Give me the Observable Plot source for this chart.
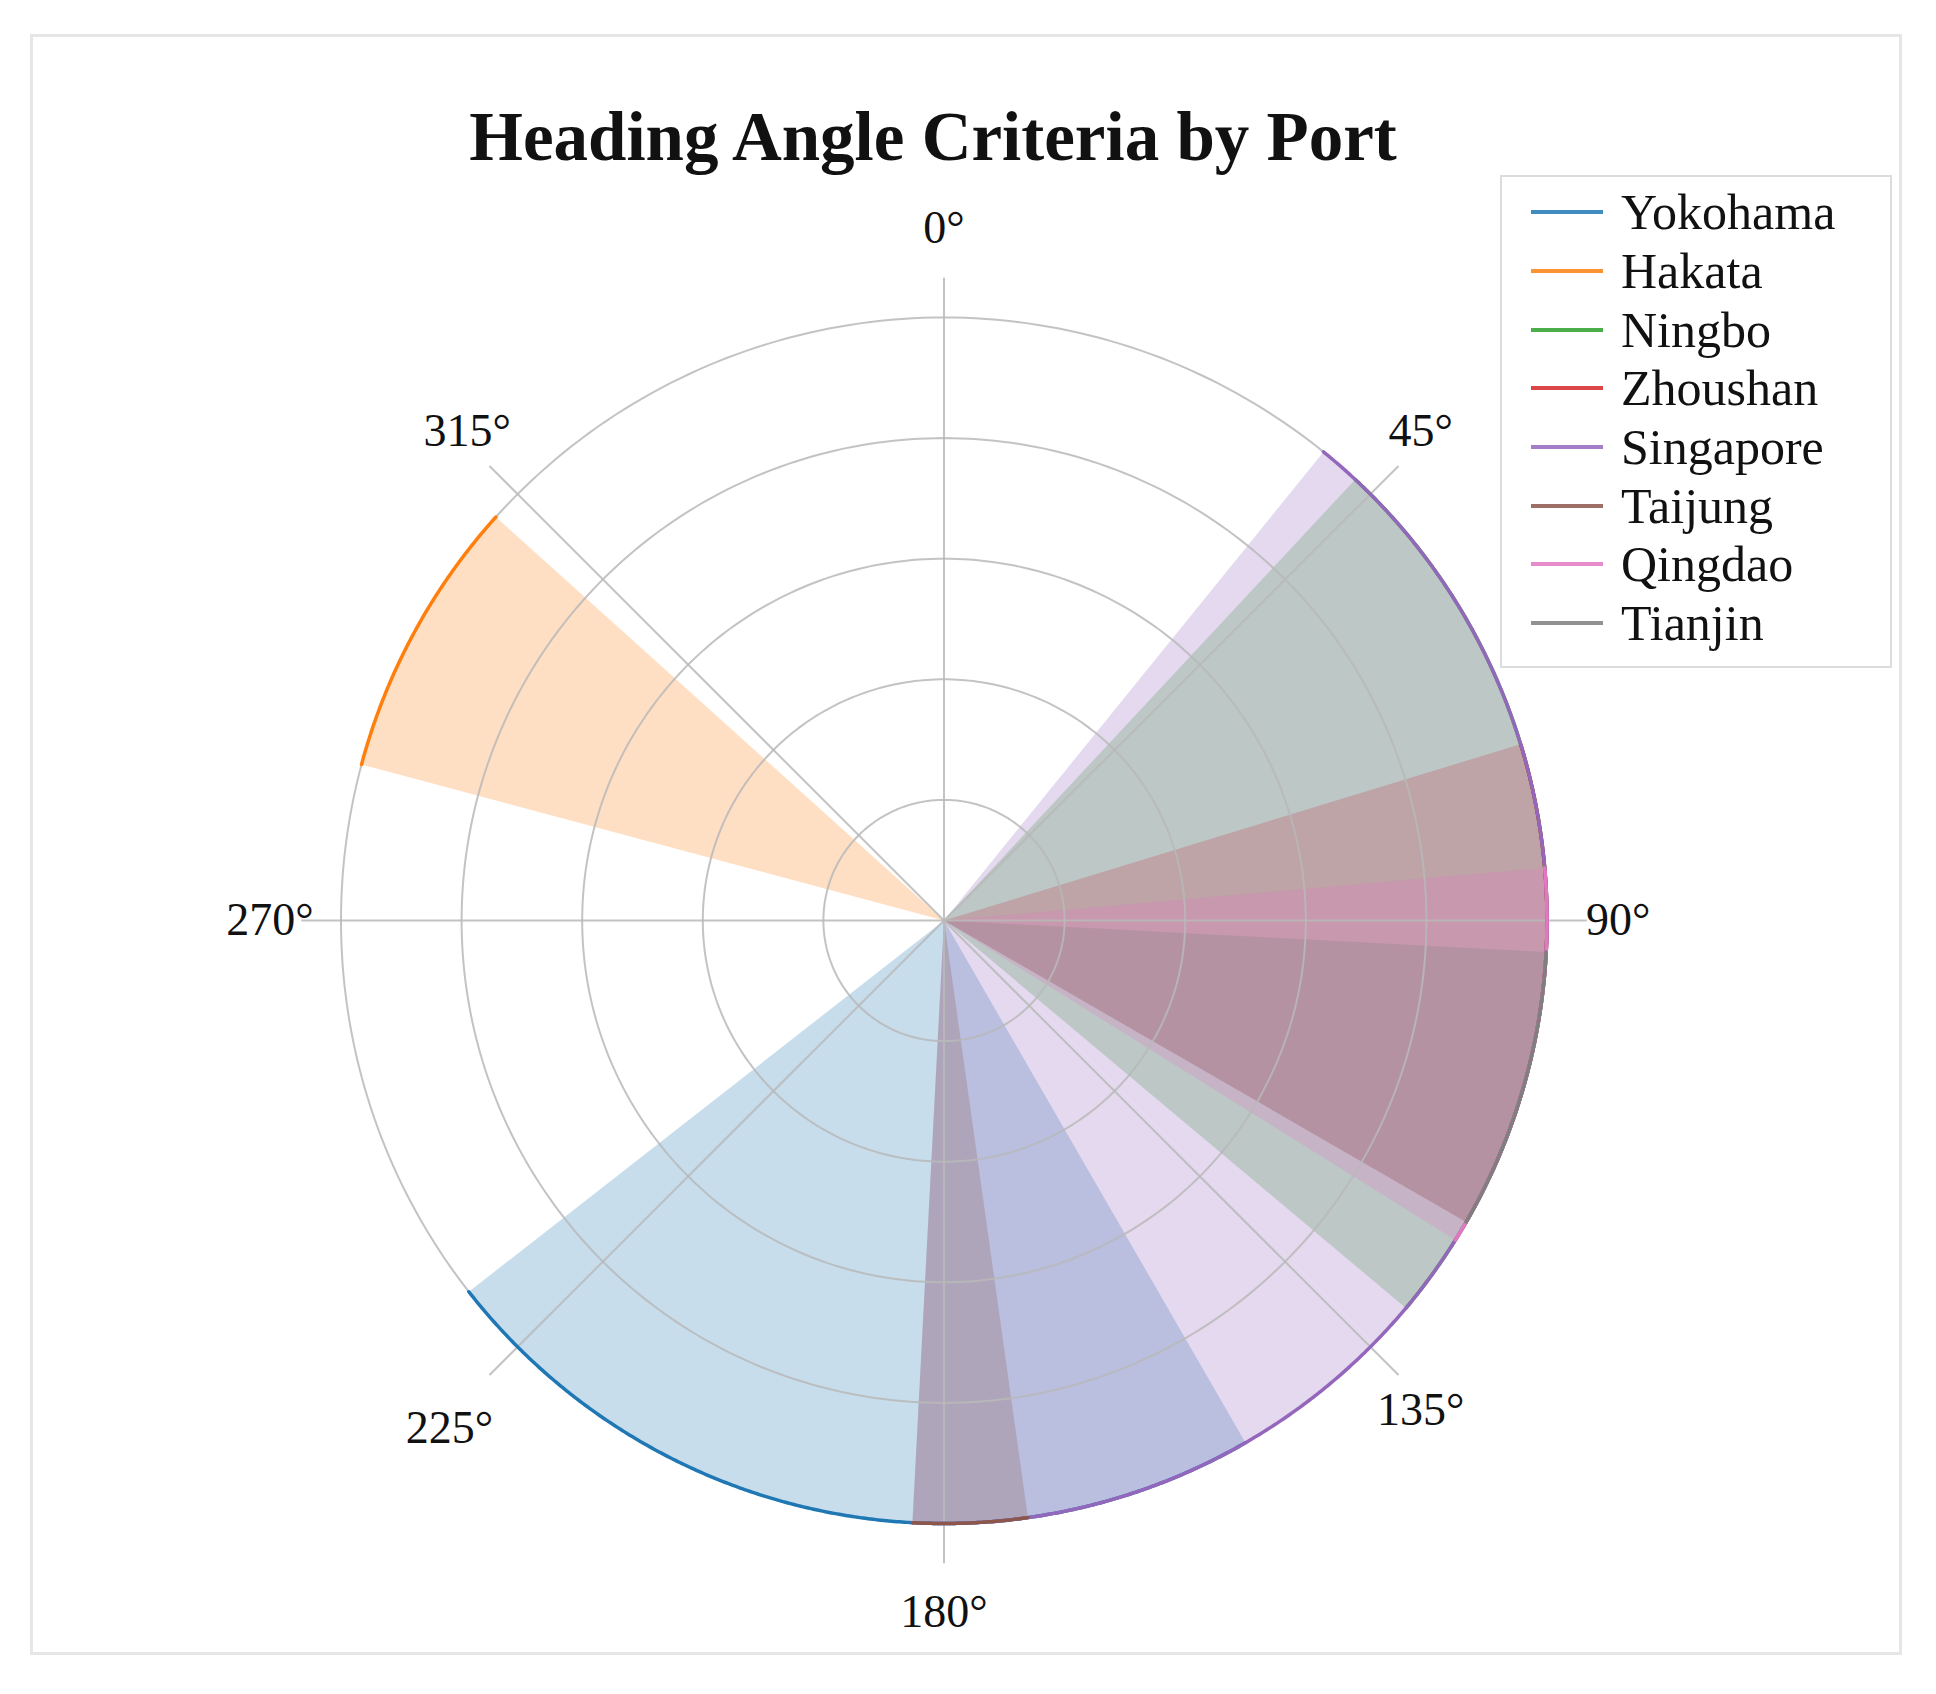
<!DOCTYPE html>
<html>
<head>
<meta charset="utf-8">
<script src="https://cdn.jsdelivr.net/npm/d3@7"></script>
<script src="https://cdn.jsdelivr.net/npm/@observablehq/plot@0.6"></script>
<style>
  body { margin: 0; background: #fff; }
  #page { position: relative; width: 1936px; height: 1694px; overflow: hidden;
          font-family: "Liberation Serif", "DejaVu Serif", serif; color: #111; }
  #frame { position: absolute; left: 30px; top: 34px; width: 1872px; height: 1621px;
           border: 3px solid #e6e6e6; box-sizing: border-box; }
  #title { position: absolute; left: 0; top: 103px; width: 1866px; text-align: center;
           font-weight: bold; font-size: 69px; line-height: 69px; }
  #chart { position: absolute; left: 0; top: 200px; }
  #legend { position: absolute; left: 1500px; top: 175px; width: 392px; height: 493px;
            box-sizing: border-box; border: 2px solid #dcdcdc; background: #fff;
            padding-top: 6px; }
  .row { display: flex; align-items: center; height: 58.7px; }
  .sw { width: 72px; height: 4px; margin-left: 29px; margin-right: 18px; opacity: 0.85; }
  .lab { font-size: 50px; line-height: 58px; }
</style>
</head>
<body>
<div id="page">
  <div id="frame"></div>
  <div id="title">Heading Angle Criteria by Port</div>
  <div id="chart"></div>
  <div id="legend"></div>
</div>
<script>
// ---- data ----
const ports = ["Yokohama", "Hakata", "Ningbo", "Zhoushan", "Singapore", "Taijung", "Qingdao", "Tianjin"];
const portColors = ["#1f77b4", "#ff7f0e", "#2ca02c", "#d62728", "#9467bd", "#8c564b", "#e377c2", "#7f7f7f"];
// heading angle range of each port (degrees, clockwise from north)
const rangeStart = [150, 285, 43, 73, 39, 172, 85, 93];
const rangeEnd   = [232, 312, 130, 120, 183, 183, 122, 120];
const ringRadii  = [1, 2, 3, 4, 5];
const rMax = 5;
const tickAngles = [0, 45, 90, 135, 180, 225, 270, 315];
const tickLabels = ["0°", "45°", "90°", "135°", "180°", "225°", "270°", "315°"];

// ---- layout ----
const W = 1936, H = 1494;
const cx = 943.5, cy = 720, unit = 120.6;
const toXY = (deg, r) => ({x: r * Math.sin(deg * Math.PI / 180), y: r * Math.cos(deg * Math.PI / 180)});

// wedge polygons and outer arcs built from the ranges
const wedgePts = [], arcPts = [];
ports.forEach((port, i) => {
  const s = rangeStart[i], e = rangeEnd[i];
  const angs = [];
  for (let a = s; a < e; a += 0.25) angs.push(a);
  angs.push(e);
  wedgePts.push({...toXY(s, 0), id: i, port});
  angs.forEach(a => {
    wedgePts.push({...toXY(a, rMax), id: i, port});
    arcPts.push({...toXY(a, rMax), id: i, port});
  });
  wedgePts.push({...toXY(e, 0), id: i, port});
});
const ringPts = [];
ringRadii.forEach(r => { for (let a = 0; a <= 360; a += 1) ringPts.push({...toXY(a, r), ring: r}); });

// tick label placement (the lower-left label sits a little further out, as in the source)
const labelX = a => toXY(a, rMax * (a === 225 ? 1.16 : 1.118)).x;
const labelY = a => toXY(a, rMax * (a === 225 ? 1.19 : 1.148)).y;

const chart = Plot.plot({
  width: W, height: H, margin: 0,
  x: {domain: [-cx / unit, (W - cx) / unit], axis: null},
  y: {domain: [-(H - cy) / unit, cy / unit], axis: null},
  color: {domain: ports, range: portColors},
  style: {background: "transparent"},
  marks: [
    Plot.line(wedgePts, {x: "x", y: "y", z: "id", fill: "port", fillOpacity: 0.25, stroke: "none"}),
    Plot.line(ringPts, {x: "x", y: "y", z: "ring", stroke: "#b9b9b9", strokeWidth: 2, strokeOpacity: 0.85}),
    Plot.link(tickAngles, {x1: 0, y1: 0, x2: a => toXY(a, rMax * 1.066).x, y2: a => toXY(a, rMax * 1.066).y,
                           stroke: "#b9b9b9", strokeWidth: 2, strokeOpacity: 0.85}),
    Plot.line(arcPts, {x: "x", y: "y", z: "id", stroke: "port", strokeWidth: 3.5}),
    Plot.text(tickAngles, {x: labelX, y: labelY,
                           text: (a, i) => tickLabels[i], fontSize: 46, fill: "#111",
                           fontFamily: "Liberation Serif"})
  ]
});
document.getElementById("chart").appendChild(chart);

// legend
const legend = document.getElementById("legend");
ports.forEach((p, i) => {
  const row = document.createElement("div");
  row.className = "row";
  const sw = document.createElement("div");
  sw.className = "sw";
  sw.style.background = portColors[i];
  const lab = document.createElement("span");
  lab.className = "lab";
  lab.textContent = p;
  row.appendChild(sw); row.appendChild(lab);
  legend.appendChild(row);
});
</script>
</body>
</html>
